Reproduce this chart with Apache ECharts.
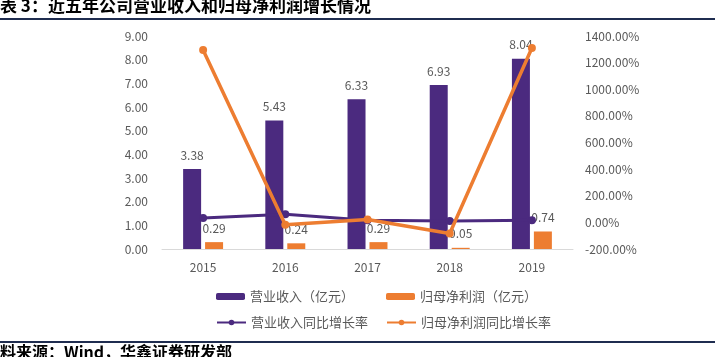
<!DOCTYPE html>
<html><head><meta charset="utf-8">
<script src="https://cdn.jsdelivr.net/npm/echarts@6/dist/echarts.min.js"></script>
<style>html,body{margin:0;padding:0;background:#fff}#c{width:715px;height:357px}</style>
</head><body><div id="c"></div>
<script>
const years = ['2015','2016','2017','2018','2019'];
const revenue = [3.38, 5.43, 6.33, 6.93, 8.04];
const netProfit = [0.29, 0.24, 0.29, 0.05, 0.74];
const revenueGrowth = [33, 60.7, 16.6, 9.5, 16.0];
const profitGrowth = [1295, -17, 21, -83, 1310];
const names = ['营业收入（亿元）','归母净利润（亿元）','营业收入同比增长率','归母净利润同比增长率'];
const titleText = '表 3：近五年公司营业收入和归母净利润增长情况';
const sourceText = '料来源：Wind，华鑫证券研发部';

const purple = '#4b2a7f', orange = '#ed7d31', grey = '#595959';
const font = '"Noto Sans CJK SC", "Noto Sans", sans-serif';
const legendPos = [[216, 290], [386, 290], [216, 316], [386, 316]];
const chart = echarts.init(document.getElementById('c'));
chart.setOption({
  animation: false,
  textStyle: {fontFamily: font},
  grid: {left: 162, right: 142, top: 36, bottom: 108},
  legend: names.map((n, i) => ({
    data: [n], left: legendPos[i][0], top: legendPos[i][1], padding: 0,
    itemWidth: 29, itemHeight: 7, itemGap: 5,
    textStyle: {color: grey, fontSize: 13, fontFamily: font}
  })),
  graphic: [
    {type: 'text', left: 0, top: -3, style: {text: titleText, fill: '#000', font: 'bold 17px "Noto Sans CJK SC", sans-serif'}},
    {type: 'rect', shape: {x: 0, y: 18, width: 715, height: 2}, style: {fill: '#1f2d50'}},
    {type: 'rect', shape: {x: 0, y: 341, width: 715, height: 2}, style: {fill: '#1f2d50'}},
    {type: 'text', left: 0, top: 344, style: {text: sourceText, fill: '#000', font: 'bold 16px "Noto Sans CJK SC", sans-serif'}}
  ],
  xAxis: {
    type: 'category', data: years,
    axisLine: {lineStyle: {color: '#d9d9d9'}}, axisTick: {show: false},
    axisLabel: {color: grey, fontSize: 12, margin: 12}
  },
  yAxis: [
    {type: 'value', min: 0, max: 9, interval: 1, splitLine: {show: false},
     axisLabel: {color: grey, fontSize: 12, margin: 14, formatter: v => v.toFixed(2)}},
    {type: 'value', min: -200, max: 1400, interval: 200, splitLine: {show: false},
     axisLabel: {color: grey, fontSize: 12, margin: 12, formatter: v => v.toFixed(2) + '%'}}
  ],
  series: [
    {name: names[0], type: 'bar', data: revenue, barWidth: 18, barGap: '22%', itemStyle: {color: purple},
     label: {show: true, position: 'top', distance: 8, color: grey, fontSize: 12, formatter: p => p.value.toFixed(2)}},
    {name: names[1], type: 'bar', data: netProfit, barWidth: 18, itemStyle: {color: orange},
     label: {show: true, position: 'top', distance: 8, color: grey, fontSize: 12, formatter: p => p.value.toFixed(2)}},
    {name: names[2], type: 'line', yAxisIndex: 1, data: revenueGrowth, symbol: 'circle', symbolSize: 8,
     lineStyle: {color: purple, width: 3}, itemStyle: {color: purple}, z: 3},
    {name: names[3], type: 'line', yAxisIndex: 1, data: profitGrowth, symbol: 'circle', symbolSize: 8,
     lineStyle: {color: orange, width: 3.5}, itemStyle: {color: orange}, z: 4}
  ]
});
</script></body></html>
